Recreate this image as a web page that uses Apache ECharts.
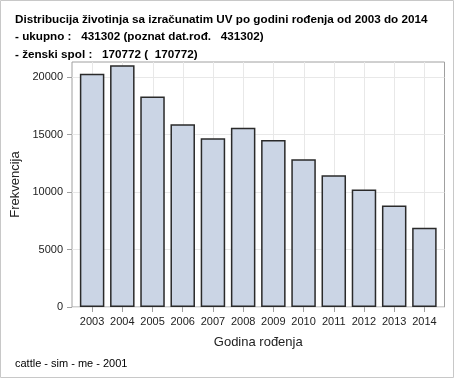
<!DOCTYPE html>
<html>
<head>
<meta charset="utf-8">
<script src="https://cdn.jsdelivr.net/npm/echarts@6/dist/echarts.min.js"></script>
<style>
  html, body { margin: 0; padding: 0; background: #fff; }
  #main { width: 454px; height: 378px; }
</style>
</head>
<body>
<div id="main"></div>
<script>
// podaci
var godine = ['2003', '2004', '2005', '2006', '2007', '2008', '2009', '2010', '2011', '2012', '2013', '2014'];
var frekvencija = [20300, 21050, 18320, 15910, 14700, 15600, 14550, 12870, 11470, 10220, 8830, 6910];
var yTicks = [0, 5000, 10000, 15000, 20000];
var yMax = 21330;

var myChart = echarts.init(document.getElementById('main'));
var font = 'Liberation Sans, Arial, sans-serif';

var option = {
    animation: false,
    title: [
        {
            text: 'Distribucija životinja sa izračunatim UV po godini rođenja od 2003 do 2014\n' +
                  '- ukupno :   431302 (poznat dat.rođ.   431302)\n' +
                  '- ženski spol :   170772 (  170772)',
            left: 10,
            top: 6,
            textStyle: { fontFamily: font, fontSize: 11.7, fontWeight: 'bold', color: '#000', lineHeight: 17.5 }
        },
        {
            text: 'cattle - sim - me - 2001',
            left: 10,
            top: 353,
            textStyle: { fontFamily: font, fontSize: 11, fontWeight: 'normal', color: '#000' }
        }
    ],
    graphic: [
        {
            type: 'rect',
            shape: { x: 0.5, y: 0.5, width: 453, height: 377 },
            style: { fill: 'none', stroke: '#c8c8c8', lineWidth: 1 },
            silent: true
        }
    ],
    grid: [
        // okvir i horizontalne linije
        { left: 72, right: 9.5, top: 62, bottom: 71, show: true, borderColor: '#a0a0a0', borderWidth: 1, backgroundColor: 'transparent' },
        // stupci
        { left: 77, right: 14.5, top: 62, bottom: 71 }
    ],
    xAxis: [
        { gridIndex: 0, type: 'value', show: false, min: 0, max: 1 },
        {
            gridIndex: 1,
            type: 'category',
            data: godine,
            name: 'Godina rođenja',
            nameLocation: 'middle',
            nameGap: 29,
            nameTextStyle: { fontFamily: font, fontSize: 13, color: '#222' },
            axisLine: { show: false },
            axisTick: { show: true, alignWithLabel: true, length: 5, lineStyle: { color: '#a0a0a0' } },
            axisLabel: { fontFamily: font, fontSize: 11, color: '#222', margin: 9, interval: 0 },
            splitLine: { show: false }
        }
    ],
    yAxis: [
        {
            gridIndex: 0,
            type: 'value',
            min: 0,
            max: yMax,
            name: 'Frekvencija',
            nameLocation: 'middle',
            nameGap: 47,
            nameTextStyle: { fontFamily: font, fontSize: 13, color: '#222' },
            axisLine: { show: false },
            axisTick: { show: true, length: 5, customValues: yTicks, lineStyle: { color: '#a0a0a0' } },
            axisLabel: {
                fontFamily: font, fontSize: 11, color: '#222', margin: 9, customValues: yTicks,
                formatter: function (v) { return String(v); }
            },
            splitLine: { show: true, lineStyle: { color: '#e8e8e8', width: 1 } }
        },
        { gridIndex: 1, type: 'value', min: 0, max: yMax, show: false, splitLine: { show: false } }
    ],
    series: [
        {
            // vertikalne linije mreže na sredini kategorija
            type: 'custom',
            xAxisIndex: 1,
            yAxisIndex: 1,
            data: godine.map(function (g) { return [g, yMax]; }),
            silent: true,
            z: 1,
            renderItem: function (params, api) {
                var top = api.coord([api.value(0), api.value(1)]);
                var bot = api.coord([api.value(0), 0]);
                var x = Math.round(top[0]) + 0.5;
                return {
                    type: 'line',
                    shape: { x1: x, y1: top[1], x2: x, y2: bot[1] },
                    style: { stroke: '#e8e8e8', lineWidth: 1 }
                };
            }
        },
        {
            type: 'bar',
            xAxisIndex: 1,
            yAxisIndex: 1,
            data: frekvencija,
            barWidth: 24.5,
            z: 3,
            itemStyle: { color: '#cbd5e5', borderColor: '#2a2a2a', borderWidth: 1.5 }
        }
    ]
};
myChart.setOption(option);
</script>
</body>
</html>
